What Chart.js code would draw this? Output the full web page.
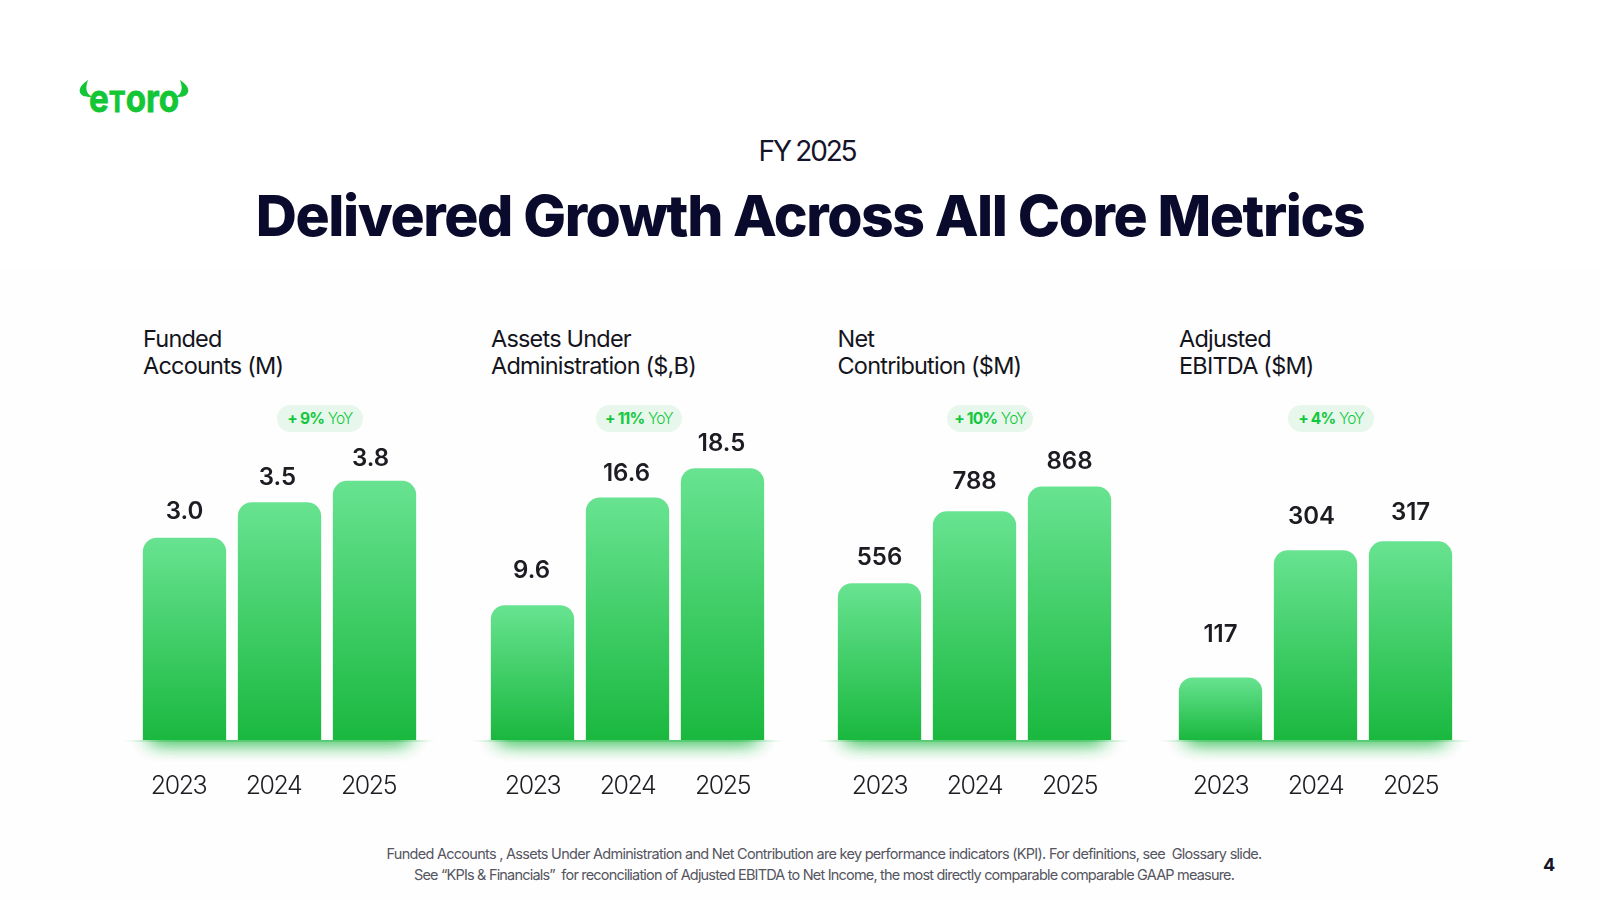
<!DOCTYPE html>
<html lang="en">
<head>
<meta charset="utf-8">
<title>Delivered Growth Across All Core Metrics</title>
<script src="https://cdn.jsdelivr.net/npm/chart.js@4"></script>
<style>
    html, body { margin: 0; padding: 0; background: #fff; }
    #page { position: relative; width: 1600px; height: 900px; overflow: hidden; font-family: Inter, "Noto Sans", sans-serif; color: #14141c; }
    #page > * { position: absolute; }
    #tint { left: 0; top: 268px; width: 1600px; height: 632px; background: #fefefe; }
    #logo { left: 78px; top: 76px; }
    #kicker { left: 0; width: 1614px; top: 133px; text-align: center; font-size: 28px; line-height: 36px; letter-spacing: -2.2px; color: #14142a; }
    #headline { left: 0; width: 1620px; top: 178px; text-align: center; font-size: 57px; line-height: 76px; font-weight: 800; letter-spacing: -1.4px; color: #0a0a2c; white-space: nowrap; }
    .panel-title { font-size: 23.5px; line-height: 26.5px; letter-spacing: -0.8px; white-space: nowrap; top: 326px; }
    .pill { top: 405px; width: 86px; height: 27px; line-height: 27px; border-radius: 14px; background: #e7f7ec; color: #12c73c; text-align: center; font-size: 15.5px; letter-spacing: -0.8px; white-space: nowrap; }
    .pill b { font-weight: 700; }
    .pill span { font-weight: 300; }
    canvas { position: absolute; }
    #footnote { left: 0; width: 1648px; top: 843px; text-align: center; font-size: 14.5px; line-height: 21px; letter-spacing: -0.72px; color: #55555f; white-space: nowrap; }
    #footnote span { letter-spacing: -0.81px; }
    #pageNum { left: 1543px; top: 853px; font-size: 18px; line-height: 24px; font-weight: 700; color: #14142a; }
</style>
</head>
<body>
<div id="page">
    <div id="tint"></div>
    <svg id="logo" width="114" height="42" viewBox="0 0 114 42">
        <path d="M10 4 C2 9 0 15 3 18 C5 21 10 21 14 21 C10 18 6 15 10 4 Z" fill="#13c636"/>
        <path d="M102 4 C110 9 112 15 109 18 C107 21 102 21 98 21 C102 18 106 15 102 4 Z" fill="#13c636"/>
        <text x="11" y="36" fill="#13c636" stroke="#13c636" stroke-width="0.8" font-family="Inter, sans-serif" font-weight="700" textLength="90" lengthAdjust="spacingAndGlyphs"><tspan font-size="38">e</tspan><tspan font-size="29">T</tspan><tspan font-size="38">oro</tspan></text>
    </svg>
    <div id="kicker">FY 2025</div>
    <div id="headline">Delivered Growth Across All Core Metrics</div>
    <div id="footnote">Funded Accounts , Assets Under Administration and Net Contribution are key performance indicators (KPI). For definitions, see&nbsp; Glossary slide.<br><span>See “KPIs &amp; Financials”&nbsp; for reconciliation of Adjusted EBITDA to Net Income, the most directly comparable comparable GAAP measure.</span></div>
    <div id="pageNum">4</div>
</div>

<script>
// Data
const years = ['2023', '2024', '2025'];
const fundedAccounts = [3.0, 3.5, 3.8];
const assetsUnderAdmin = [9.6, 16.6, 18.5];
const netContribution = [556, 788, 868];
const adjustedEbitda = [117, 304, 317];

const panelTitles = [
    ['Funded', 'Accounts (M)'],
    ['Assets Under', 'Administration ($,B)'],
    ['Net', 'Contribution ($M)'],
    ['Adjusted', 'EBITDA ($M)']
];
const yoyLabels = ['9%', '11%', '10%', '4%'];
const valueDecimals = [1, 1, 0, 0];

// The bars on the slide do not start from zero, so each hidden axis has its own range
const axisMin = [0.15, 0.85, 50, 25];
const axisMax = [4.375, 20.33, 1018, 466];

// Layout
const CANVAS_TOP = 400;
const PLOT_TOP_PAD = 40;
const CANVAS_HEIGHT = 430;
const BOTTOM_PAD = 6;
const SIDE_PAD = 20;
const panelLeft = [143, 491, 837.5, 1179];
const pillLeft = [277, 596, 947, 1288];
// small hand placement of the labels, as on the slide
const labelGap = [[14, 12, 10], [22, 12, 12], [13, 17, 13], [31, 21, 17]];
const labelShift = [[0, -2, -4], [-1, -1, -1], [0, 0, 0], [0, -4, 0]];
const tickShift = [-6, 0, 0, 0];

// Tighter digits on the year ticks
const tickSpacing = {
    id: 'tickSpacing',
    beforeDraw(chart) {
        chart.ctx.letterSpacing = '-1.5px';
    }
};

// Value above each bar
const valueLabels = {
    id: 'valueLabels',
    afterDatasetsDraw(chart, args, opts) {
        const ctx = chart.ctx;
        ctx.save();
        ctx.letterSpacing = '0px';
        ctx.font = '600 24px Inter, sans-serif';
        ctx.fillStyle = '#1c1c22';
        ctx.textAlign = 'center';
        ctx.textBaseline = 'bottom';
        chart.getDatasetMeta(0).data.forEach((bar, i) => {
            const text = chart.data.datasets[0].data[i].toFixed(opts.decimals);
            ctx.fillText(text, bar.x + opts.shift[i], bar.y - opts.gap[i]);
        });
        ctx.restore();
    }
};

// Soft green glow under the baseline
const baseGlow = {
    id: 'baseGlow',
    beforeDatasetsDraw(chart) {
        const ctx = chart.ctx;
        const area = chart.chartArea;
        ctx.save();
        ctx.beginPath();
        ctx.rect(0, area.bottom, chart.width, 34);
        ctx.clip();
        ctx.shadowColor = 'rgba(26, 184, 63, 0.9)';
        ctx.shadowBlur = 20;
        ctx.fillStyle = '#1ab83f';
        // drawn twice, once is too pale next to the slide
        ctx.fillRect(area.left + 14, area.bottom - 14, area.right - area.left - 28, 14);
        ctx.fillRect(area.left + 14, area.bottom - 14, area.right - area.left - 28, 14);
        ctx.restore();

        // faint line that runs past the bars on both sides
        const fade = ctx.createLinearGradient(area.left - 14, 0, area.right + 14, 0);
        fade.addColorStop(0, 'rgba(26, 184, 63, 0)');
        fade.addColorStop(0.12, 'rgba(26, 184, 63, 0.3)');
        fade.addColorStop(0.88, 'rgba(26, 184, 63, 0.3)');
        fade.addColorStop(1, 'rgba(26, 184, 63, 0)');
        ctx.fillStyle = fade;
        ctx.fillRect(area.left - 14, area.bottom, area.right - area.left + 28, 2);
    }
};

function barGradient(context) {
    const chart = context.chart;
    if (!chart.chartArea) return '#1ab83f';
    const yScale = chart.scales.y;
    const top = yScale.getPixelForValue(context.raw);
    const grad = chart.ctx.createLinearGradient(0, top, 0, chart.chartArea.bottom);
    grad.addColorStop(0, '#68e391');
    grad.addColorStop(1, '#1ab83f');
    return grad;
}

function creaPannello(index, values) {
    const page = document.getElementById('page');

    const title = document.createElement('div');
    title.className = 'panel-title';
    title.style.left = panelLeft[index] + 'px';
    title.innerHTML = panelTitles[index].join('<br>');
    page.appendChild(title);

    const pill = document.createElement('div');
    pill.className = 'pill';
    pill.style.left = pillLeft[index] + 'px';
    pill.innerHTML = `<b>+ ${yoyLabels[index]}</b> <span>YoY</span>`;
    page.appendChild(pill);

    // 3 slots of 95px, bars 83px wide
    const slotWidth = 95;
    const plotWidth = slotWidth * years.length;
    const canvas = document.createElement('canvas');
    const cssWidth = plotWidth + SIDE_PAD * 2;
    canvas.style.left = (panelLeft[index] - 6 - SIDE_PAD) + 'px';
    canvas.style.top = CANVAS_TOP + 'px';
    canvas.style.width = cssWidth + 'px';
    canvas.style.height = CANVAS_HEIGHT + 'px';
    canvas.width = cssWidth;
    canvas.height = CANVAS_HEIGHT;
    page.appendChild(canvas);

    new Chart(canvas, {
        type: 'bar',
        data: {
            labels: years,
            datasets: [{
                data: values,
                backgroundColor: barGradient,
                borderRadius: { topLeft: 14, topRight: 14, bottomLeft: 0, bottomRight: 0 },
                borderSkipped: false,
                barPercentage: 0.877,
                categoryPercentage: 1
            }]
        },
        options: {
            responsive: false,
            animation: false,
            layout: {
                padding: {
                    top: PLOT_TOP_PAD,
                    left: SIDE_PAD,
                    right: SIDE_PAD,
                    bottom: BOTTOM_PAD
                }
            },
            plugins: {
                legend: { display: false },
                tooltip: { enabled: false },
                valueLabels: {
                    decimals: valueDecimals[index],
                    gap: labelGap[index],
                    shift: labelShift[index]
                }
            },
            scales: {
                x: {
                    grid: { display: false },
                    border: { display: false },
                    ticks: {
                        color: '#1c1c22',
                        font: { family: 'Inter, sans-serif', size: 25, weight: '300' },
                        padding: 23,
                        maxRotation: 0,
                        autoSkip: false,
                        labelOffset: tickShift[index]
                    }
                },
                y: {
                    display: false,
                    min: axisMin[index],
                    max: axisMax[index]
                }
            }
        },
        plugins: [tickSpacing, baseGlow, valueLabels]
    });
}

[fundedAccounts, assetsUnderAdmin, netContribution, adjustedEbitda].forEach((values, i) => creaPannello(i, values));
</script>
</body>
</html>
